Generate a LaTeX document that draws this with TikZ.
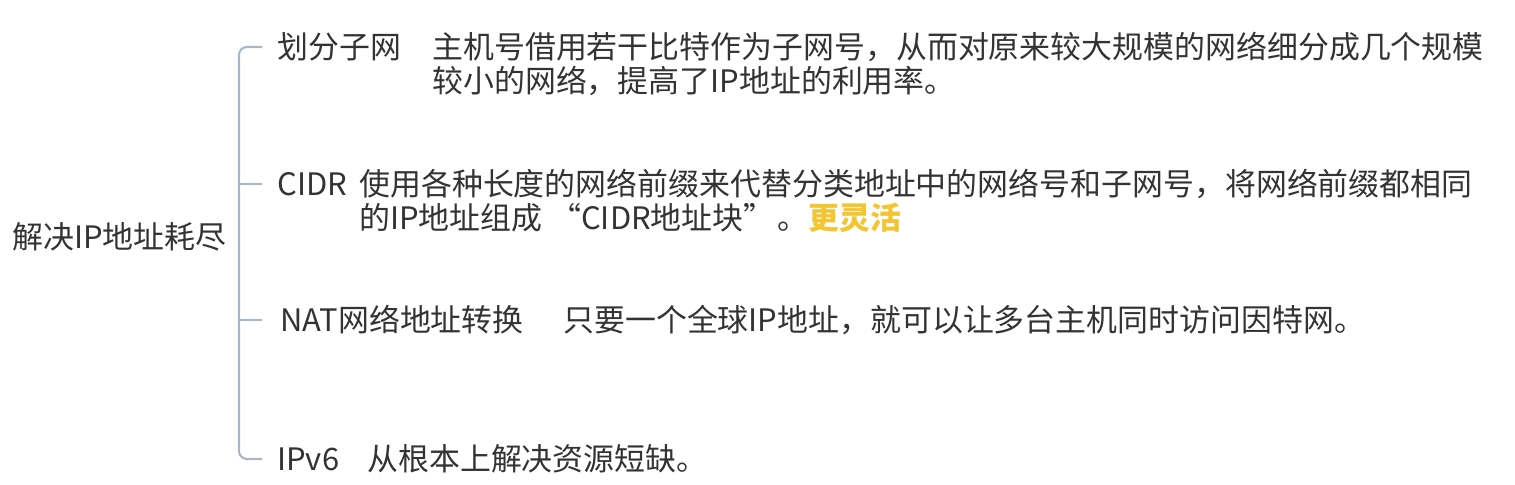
\documentclass[tikz,border=0pt]{standalone}
\usepackage{fontspec}
\setmainfont{Noto Sans CJK SC}
\usetikzlibrary{positioning}

\definecolor{inkgray}{HTML}{333333}
\definecolor{linegray}{HTML}{A9B6CA}
\definecolor{hilite}{HTML}{F3C531}

\begin{document}
\begin{tikzpicture}[x=0.02cm, y=-0.02cm,
    every node/.style={font=\fontsize{17.6pt}{19.4pt}\selectfont, text=inkgray, inner sep=0pt},
    topic/.style={anchor=west},
    branch/.style={anchor=west, text height=15.5pt, text depth=2.1pt},
    desc/.style={anchor=base west, text width=23cm, align=left},
    bracket/.style={draw=linegray, line width=1.2pt}]
    \useasboundingbox (0,0) rectangle (1515,484);

    % Root and branches
    \node (root) [topic] at (12,237) {解决IP地址耗尽};
    \coordinate (spine) at (239,0);
    \node (subnet) [branch] at (277,47) {划分子网};
    \node (cidr) [branch] at (277,184) {CIDR};
    \node (nat) [branch] at (280,320) {NAT网络地址转换};
    \node (ipv6) [branch] at (277,459) {IPv6};

    % Descriptions
    \node (subnetdesc) [desc] at (subnet.base -| 432,0) {主机号借用若干比特作为子网号，从而对原来较大规模的网络细分成几个规模\\较小的网络，提高了IP地址的利用率。};
    \node (cidrdesc) [desc] at (cidr.base -| 359,0) {使用各种长度的网络前缀来代替分类地址中的网络号和子网号，将网络前缀都相同\\的IP地址组成\hspace{0.25em}“CIDR地址块”\hspace{0.1em}。{\bfseries\color{hilite}更灵活}};
    \node (natdesc) [desc] at (nat.base -| 563,0) {只要一个全球IP地址，就可以让多台主机同时访问因特网。};
    \node (ipv6desc) [desc] at (ipv6.base -| 367,0) {从根本上解决资源短缺。};

    % Bracket
    \draw[bracket, rounded corners=4.5pt, shorten <=0.3cm, shorten >=0.3cm]
        (subnet.west) -- (spine |- subnet.west) -- (spine |- ipv6.west) -- (ipv6.west);
    \draw[bracket, shorten >=0.3cm] (spine |- cidr.west) -- (cidr.west);
    \draw[bracket, shorten >=0.36cm] (spine |- nat.west) -- (nat.west);
\end{tikzpicture}
\end{document}
